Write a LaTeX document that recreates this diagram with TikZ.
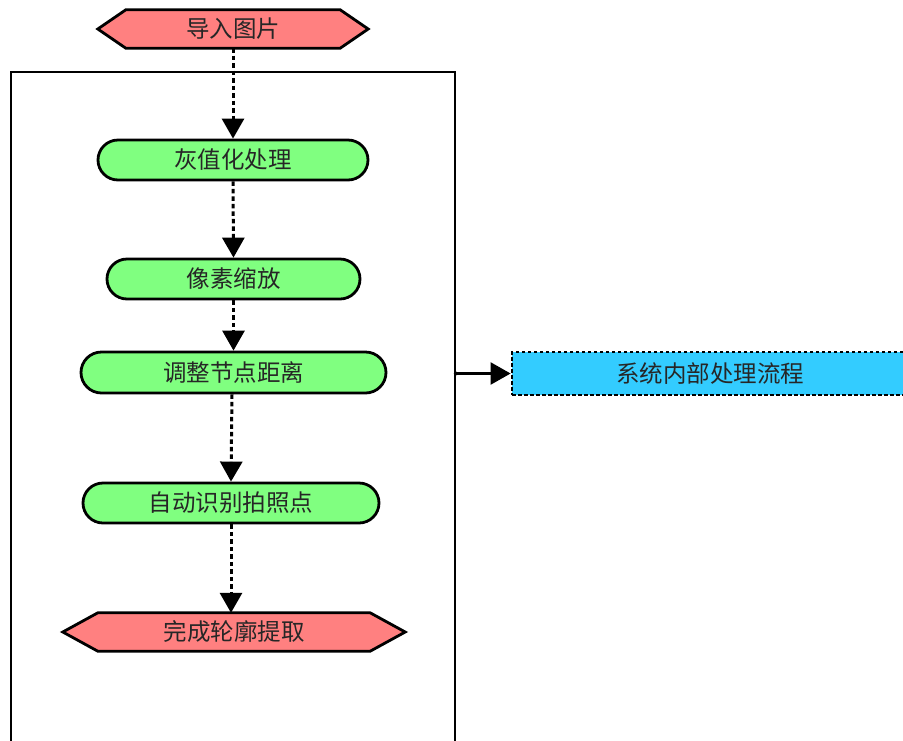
\documentclass[tikz,border=0pt]{standalone}
\usepackage{fontspec}
\newfontfamily\cjk{Noto Sans CJK SC}
\usetikzlibrary{arrows.meta,shapes.misc,backgrounds}
\definecolor{hexred}{HTML}{FF8080}
\definecolor{boxgreen}{HTML}{80FF80}
\definecolor{boxblue}{HTML}{33CCFF}
\tikzset{
  txt/.style={font=\cjk\fontsize{23.5}{27}\selectfont, inner sep=0pt, text=black!85},
  hexnode/.style={txt, minimum height=38pt},
  hexdraw/.style={draw=black, fill=hexred, line width=2.8pt, line join=miter},
  greenbox/.style={txt, rounded rectangle, draw=black, fill=boxgreen, line width=2.8pt, minimum height=40pt},
  bluebox/.style={txt, rectangle, draw=black, fill=boxblue, line width=2.8pt, dash pattern=on 3.5pt off 2.5pt, minimum height=43pt},
  frame/.style={draw=black, line width=1.6pt, rectangle, inner sep=0pt},
  flow/.style={draw=black, line width=3pt, dash pattern=on 4.5pt off 3pt, -{Triangle[length=20pt,width=22pt]}},
  solidarrow/.style={draw=black, line width=2.4pt, -{Triangle[length=20pt,width=22pt]}}
}
\begin{document}
\begin{tikzpicture}[x=1pt,y=-1pt]
\useasboundingbox (0,0) rectangle (903,740);
\clip (0,0) rectangle (903,740);
% outer frame (open below the picture)
\node[frame, minimum width=444pt, minimum height=700pt] (frame) at (233,422) {};
% nodes
\node[hexnode, minimum width=270pt] (n0) at (233,29) {导入图片};
\node[greenbox, minimum width=270pt] (n1) at (233,160) {灰值化处理};
\node[greenbox, minimum width=253pt] (n2) at (233.5,279) {像素缩放};
\node[greenbox, minimum width=305pt, minimum height=41pt] (n3) at (233.5,372.5) {调整节点距离};
\node[greenbox, minimum width=296pt] (n4) at (231,503) {自动识别拍照点};
\node[hexnode, minimum width=342pt] (n5) at (234,632) {完成轮廓提取};
\node[bluebox, minimum width=396pt] (sys) at (710,373.5) {系统内部处理流程};
% hexagon outlines behind the text
\begin{pgfonlayer}{background}
\draw[hexdraw] (n0.west) -- ([xshift=28pt]n0.north west) -- ([xshift=-28pt]n0.north east) -- (n0.east) -- ([xshift=-28pt]n0.south east) -- ([xshift=28pt]n0.south west) -- cycle;
\draw[hexdraw] (n5.west) -- ([xshift=35pt]n5.north west) -- ([xshift=-35pt]n5.north east) -- (n5.east) -- ([xshift=-35pt]n5.south east) -- ([xshift=35pt]n5.south west) -- cycle;
\end{pgfonlayer}
% connectors
\draw[flow] (n0.south) -- (n1.north);
\draw[flow] (n1.south) -- (n2.north);
\draw[flow] (n2.south) -- (n3.north);
\draw[flow] ([xshift=-1.5pt]n3.south) -- (n4.north);
\draw[flow] (n4.south) -- (n4.south |- n5.north);
\draw[solidarrow] (frame.east |- sys.west) -- (sys.west);
\fill (frame.east |- sys.west) circle (2pt);
\end{tikzpicture}
\end{document}
